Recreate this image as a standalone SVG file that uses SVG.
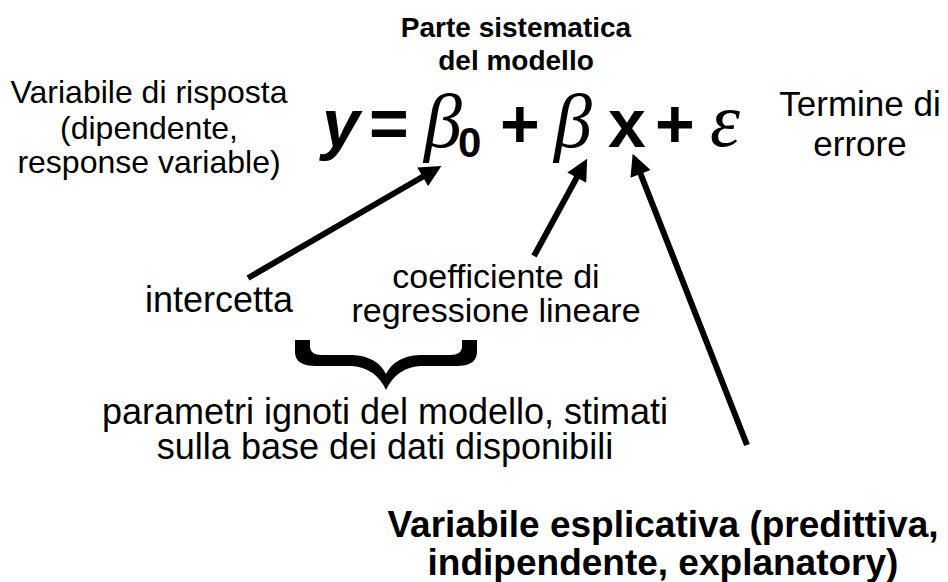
<svg xmlns="http://www.w3.org/2000/svg" width="948" height="582" viewBox="0 0 948 582">
<defs>
<style>
text{font-family:"Liberation Sans",Arial,sans-serif;fill:#000}
.b{font-weight:bold}
.r{font-size:34px}
.c{text-anchor:middle}
.eq{font-size:68px;font-weight:bold}
.gr{font-family:"Liberation Serif","Times New Roman",serif;font-style:italic;font-size:76px}
.arr{stroke:#000;stroke-width:6;fill:none;marker-end:url(#ah)}
</style>
<marker id="ah" viewBox="0 0 10 10" refX="3" refY="5" markerWidth="4" markerHeight="3.6" markerUnits="strokeWidth" orient="auto">
<path d="M0,0 L10,5 L0,10 z" fill="#000"/>
</marker>
</defs>
<rect width="948" height="582" fill="#fff"/>
<g id="titolo">
<text class="b c" x="516" y="37" font-size="28">Parte sistematica</text>
<text class="b c" x="516" y="70" font-size="28">del modello</text>
</g>
<g id="equazione">
<text class="eq" x="322" y="147" font-style="italic">y</text>
<text class="eq" x="369" y="147">=</text>
<text class="gr" x="424" y="147">β</text>
<text class="b" x="458" y="157" font-size="42">0</text>
<text class="eq" x="500" y="147">+</text>
<text class="gr" x="554" y="147">β</text>
<text class="eq" x="608" y="147">x</text>
<text class="eq" x="655" y="147">+</text>
<text class="gr" x="710" y="146">ε</text>
</g>
<g id="risposta">
<text class="c" x="149" y="103" font-size="32">Variabile di risposta</text>
<text class="c" x="149" y="139" font-size="32">(dipendente,</text>
<text class="c" x="149" y="173" font-size="32">response variable)</text>
</g>
<g id="errore">
<text class="c" x="860" y="116" font-size="35">Termine di</text>
<text class="c" x="860" y="156" font-size="35">errore</text>
</g>
<g id="intercetta">
<text x="145" y="312" font-size="36">intercetta</text>
</g>
<g id="coefficiente">
<text class="c r" x="496" y="288">coefficiente di</text>
<text class="c r" x="496" y="322">regressione lineare</text>
</g>
<g id="parametri">
<path d="M295,340 H310 V346 Q310,355 322,355 H352 Q377,356 386,374 Q395,356 420,355 H450 Q462,355 462,346 V340 H477 V352 Q477,366 456,366 H420 Q396,368 386,390 Q376,368 352,366 H316 Q295,366 295,352 Z" fill="#000"/>
<text class="c" x="385" y="424" font-size="36">parametri ignoti del modello, stimati</text>
<text class="c" x="385" y="459" font-size="36">sulla base dei dati disponibili</text>
</g>
<g id="esplicativa">
<text class="b c" x="663" y="537" font-size="37">Variabile esplicativa (predittiva,</text>
<text class="b c" x="663" y="575" font-size="37">indipendente, explanatory)</text>
</g>
<g id="connettori">
<line class="arr" x1="248" y1="278" x2="428.3" y2="173.5"/>
<line class="arr" x1="534" y1="256" x2="579.9" y2="171.9"/>
<line class="arr" x1="747" y1="445" x2="638.2" y2="167.8"/>
</g>
</svg>
